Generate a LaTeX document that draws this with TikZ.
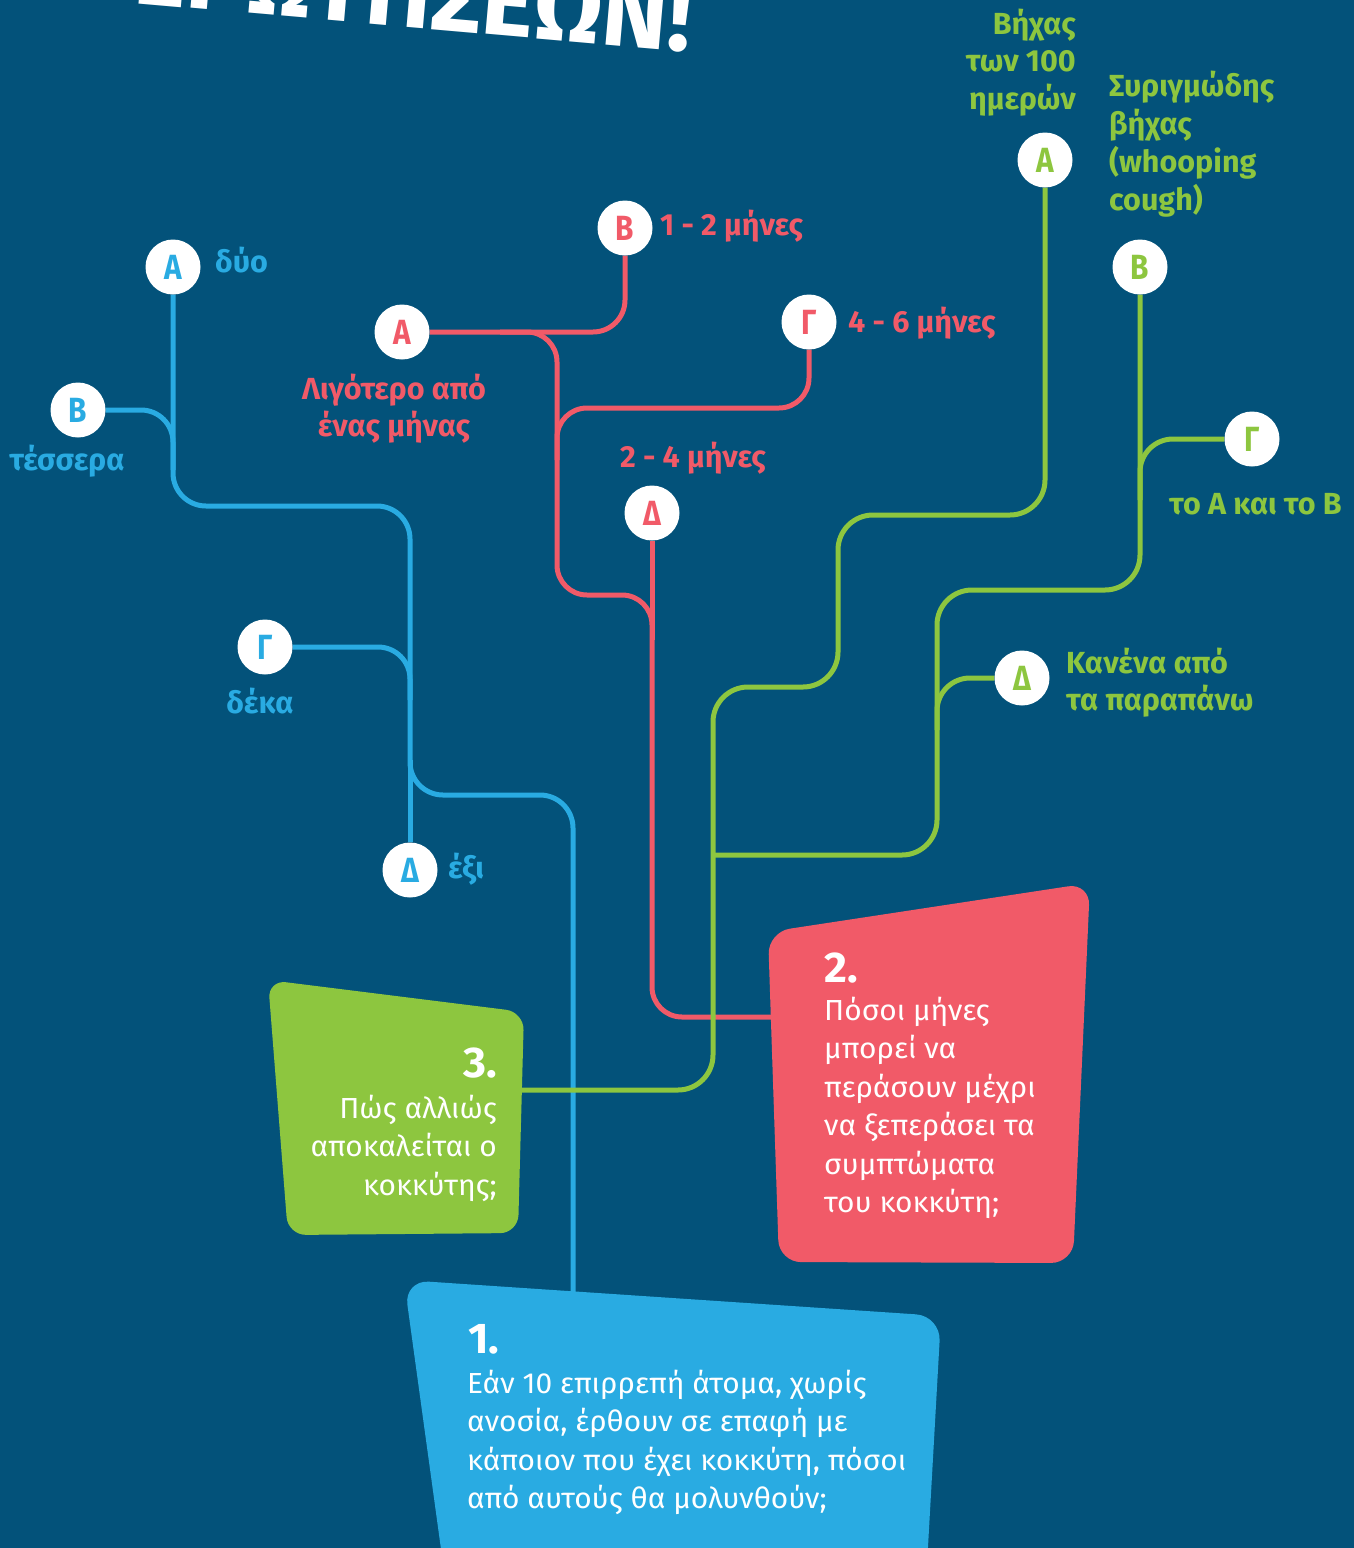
\documentclass[tikz,border=0pt]{standalone}
\usepackage{fontspec}
\setmainfont{Fira Sans}
\newfontfamily\condfont[FakeStretch=0.85]{Fira Sans}
\newfontfamily\qfont[FakeStretch=1.03]{Fira Sans}
\definecolor{bgc}{HTML}{03527A}
\definecolor{cblue}{HTML}{29ABE2}
\definecolor{cred}{HTML}{F15A68}
\definecolor{cgreen}{HTML}{8DC63F}
\pgfdeclarelayer{back}
\pgfsetlayers{back,main}
\begin{document}
\begin{tikzpicture}[x=1pt,y=-1pt,
  opt/.style={circle,fill=white,minimum size=55pt,inner sep=0pt,font=\condfont\bfseries\fontsize{35}{35}\selectfont},
  lbl/.style={inner sep=0pt,font=\bfseries\fontsize{30.5}{38}\selectfont},
  wire/.style={line width=5pt,rounded corners=33pt},
  qtext/.style={inner sep=0pt,text=white,font=\qfont\fontsize{29}{38.5}\selectfont},
  qnum/.style={inner sep=0pt,text=white,font=\qfont\bfseries\fontsize{43}{43}\selectfont},
]
\useasboundingbox (0,0) rectangle (1354,1548);

% title (cut off at the top edge)
\node[font=\bfseries\fontsize{100}{100}\selectfont,text=white,anchor=base east,rotate=-5,inner sep=0pt] (title) at (690,52) {ΕΡΩΤΗΣΕΩΝ!};

% option circles
\node[opt,text=cblue] (bA) at (173,267) {Α};
\node[opt,text=cblue] (bB) at (78,410) {Β};
\node[opt,text=cblue] (bG) at (265,647) {Γ};
\node[opt,text=cblue] (bD) at (410,870) {Δ};
\node[opt,text=cred] (rA) at (402,332) {Α};
\node[opt,text=cred] (rB) at (625,228) {Β};
\node[opt,text=cred] (rG) at (809,322) {Γ};
\node[opt,text=cred] (rD) at (652,513) {Δ};
\node[opt,text=cgreen] (gA) at (1045,160) {Α};
\node[opt,text=cgreen] (gB) at (1140,267) {Β};
\node[opt,text=cgreen] (gG) at (1252,439) {Γ};
\node[opt,text=cgreen] (gD) at (1022,678) {Δ};

% box anchor points
\coordinate (q1top) at (573,1292);
\coordinate (q2left) at (772,1017);
\coordinate (q3right) at (520,1090);

\begin{pgfonlayer}{back}
\fill[bgc] (0,0) rectangle (1354,1548);
% blue wires
\draw[wire,cblue] (bA.south) -- (173,506) -- (410,506) -- (410,795) -- (573,795) -- (q1top);
\draw[wire,cblue,rounded corners=32pt] (bB.east) -- (173,410) -- (173,470);
\draw[wire,cblue,rounded corners=32pt] (bG.east) -- (410,647) -- (410,700);
\draw[wire,cblue] (bD.north) -- (410,760);
% red wires
\draw[wire,cred,rounded corners=32pt] (rA.east) -- (625,332) -- (rB.south);
\draw[wire,cred,rounded corners=30pt] (500,332) -- (557,332) -- (557,595) -- (652,595) -- (652,1017) -- (q2left);
\draw[wire,cred,rounded corners=30pt] (rG.south) -- (809,408) -- (557,408) -- (557,460);
\draw[wire,cred] (rD.south) -- (652,640);
% green wires
\draw[wire,cgreen,rounded corners=35pt] (gA.south) -- (1045,515) -- (838,515) -- (838,687) -- (713,687) -- (713,1090) -- (q3right);
\draw[wire,cgreen,rounded corners=35pt] (gB.south) -- (1140,590) -- (937,590) -- (937,855) -- (713,855);
\draw[wire,cgreen,rounded corners=33pt] (gG.west) -- (1140,439) -- (1140,500);
\draw[wire,cgreen,rounded corners=33pt] (gD.west) -- (937,678) -- (937,730);
\end{pgfonlayer}

% question boxes
\fill[cgreen,rounded corners=18pt] (268,980) -- (524,1012) -- (518,1233) -- (288,1235) -- cycle;
\fill[cred,rounded corners=22pt] (768,932) -- (1090,883) -- (1073,1263) -- (779,1262) -- cycle;
\fill[cblue,rounded corners=25pt] (404,1280) -- (941,1316) -- (925,1600) -- (448,1600) -- cycle;

% option labels
\node[lbl,text=cblue,anchor=base west] (tbA) at (215,272) {δύο};
\node[lbl,text=cblue,anchor=base] (tbB) at (67,470) {τέσσερα};
\node[lbl,text=cblue,anchor=base] (tbG) at (260,713) {δέκα};
\node[lbl,text=cblue,anchor=base west] (tbD) at (448,878) {έξι};

\node[lbl,text=cred,anchor=base west] (trB) at (660,235) {1 - 2 μήνες};
\node[lbl,text=cred,anchor=base west] (trG) at (848,332) {4 - 6 μήνες};
\node[lbl,text=cred,anchor=base,font=\bfseries\fontsize{30.5}{37}\selectfont] (trA) at (394,399) {\begin{tabular}[t]{@{}c@{}}Λιγότερο από\\ένας μήνας\end{tabular}};
\node[lbl,text=cred,anchor=base] (trD) at (693,467) {2 - 4 μήνες};

\node[lbl,text=cgreen,anchor=base east,font=\bfseries\fontsize{30.5}{37.5}\selectfont] (tgA) at (1076,34) {\begin{tabular}[t]{@{}r@{}}Βήχας\\των 100\\ημερών\end{tabular}};
\node[lbl,text=cgreen,anchor=base west] (tgB) at (1109,96) {\begin{tabular}[t]{@{}l@{}}Συριγμώδης\\βήχας\\(whooping\\cough)\end{tabular}};
\node[lbl,text=cgreen,anchor=base west] (tgG) at (1169,514) {το Α και το Β};
\node[lbl,text=cgreen,anchor=base west,font=\bfseries\fontsize{30.5}{37}\selectfont] (tgD) at (1066,673) {\begin{tabular}[t]{@{}l@{}}Κανένα από\\τα παραπάνω\end{tabular}};

% question texts
\node[qnum,anchor=base east] (n3) at (497,1077) {3.};
\node[qtext,anchor=base east] (q3) at (497,1118) {\begin{tabular}[t]{@{}r@{}}Πώς αλλιώς\\αποκαλείται ο\\κοκκύτης;\end{tabular}};
\node[qnum,anchor=base west] (n2) at (824,982) {2.};
\node[qtext,anchor=base west] (q2) at (824,1020) {\begin{tabular}[t]{@{}l@{}}Πόσοι μήνες\\μπορεί να\\περάσουν μέχρι\\να ξεπεράσει τα\\συμπτώματα\\του κοκκύτη;\end{tabular}};
\node[qnum,anchor=base west] (n1) at (468,1353) {1.};
\node[qtext,anchor=base west] (q1) at (467,1393) {\begin{tabular}[t]{@{}l@{}}Εάν 10 επιρρεπή άτομα, χωρίς\\ανοσία, έρθουν σε επαφή με\\κάποιον που έχει κοκκύτη, πόσοι\\από αυτούς θα μολυνθούν;\end{tabular}};
\end{tikzpicture}
\end{document}
